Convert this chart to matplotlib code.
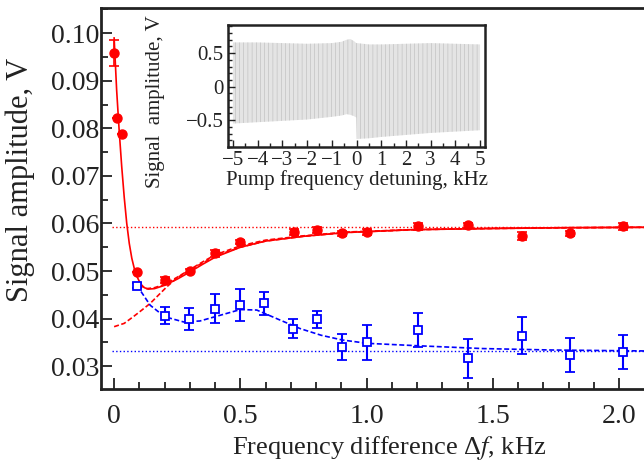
import numpy as np
import matplotlib
matplotlib.use("Agg")
import matplotlib.pyplot as plt
from matplotlib.ticker import MultipleLocator, FormatStrFormatter

plt.rcParams['font.family'] = ['Liberation Serif', 'DejaVu Serif']
plt.rcParams['mathtext.fontset'] = 'stix'
plt.rcParams['hatch.linewidth'] = 0.35

# red points (filled circles)
red_x = [0.0, 0.01, 0.032, 0.09, 0.2, 0.3, 0.4, 0.5, 0.713, 0.803, 0.904, 1.003,
         1.205, 1.403, 1.615, 1.806, 2.017]
red_y = [0.0958, 0.0822, 0.0789, 0.0498, 0.0481, 0.0500, 0.0537, 0.0561, 0.0582,
         0.0586, 0.0579, 0.0582, 0.0594, 0.0596, 0.0574, 0.0579, 0.0594]
red_err = [0.0027, 0.0, 0.0, 0.0, 0.0007, 0.0004, 0.0008, 0.0005, 0.0007,
           0.0006, 0.0005, 0.0006, 0.0007, 0.0006, 0.0008, 0.0006, 0.0007]

# blue points (open squares)
blue_x = [0.09, 0.2, 0.298, 0.401, 0.499, 0.592, 0.71, 0.803, 0.904, 1.003,
          1.205, 1.403, 1.615, 1.806, 2.017]
blue_y = [0.0469, 0.0406, 0.0399, 0.0421, 0.0428, 0.0432, 0.0379, 0.0399, 0.0341,
          0.0350, 0.0376, 0.0317, 0.0364, 0.0323, 0.0330]
blue_err = [0.0005, 0.0018, 0.0024, 0.0030, 0.0034, 0.0024, 0.0020, 0.0018, 0.0027,
            0.0037, 0.0036, 0.0041, 0.0039, 0.0036, 0.0036]

# fitted curves
red_solid_x = [0.0, 0.01, 0.02, 0.03, 0.04, 0.05, 0.06, 0.07, 0.08, 0.09, 0.1, 0.11,
               0.12, 0.135, 0.16, 0.2, 0.25, 0.3, 0.35, 0.4, 0.5, 0.6, 0.75, 0.92,
               1.18, 1.45, 1.75, 2.1]
red_solid_y = [0.0990, 0.0880, 0.0795, 0.0720, 0.0655, 0.0600, 0.0558, 0.0527, 0.0505,
               0.0489, 0.0478, 0.0470, 0.0465, 0.0462, 0.0463, 0.0470, 0.0483, 0.0498,
               0.0514, 0.0529, 0.0550, 0.0563, 0.0573, 0.0581, 0.0587, 0.0589, 0.0591,
               0.0592]
red_dash_x = [0.1, 0.13, 0.16, 0.2, 0.25, 0.3, 0.35, 0.4, 0.5, 0.6, 0.75, 0.92, 1.18,
              1.45, 1.75, 2.1]
red_dash_y = [0.0470, 0.0463, 0.0465, 0.0472, 0.0487, 0.0503, 0.0519, 0.0534, 0.0553,
              0.0565, 0.0574, 0.0582, 0.0587, 0.0589, 0.0591, 0.0592]
red_low_x = [0.0, 0.04, 0.076, 0.11, 0.143, 0.175, 0.209, 0.25, 0.3, 0.35, 0.4, 0.45,
             0.5, 0.6, 0.75, 0.92, 1.2, 1.5, 2.1]
red_low_y = [0.0383, 0.0390, 0.0404, 0.0418, 0.0432, 0.0449, 0.0467, 0.0486, 0.0502,
             0.0517, 0.0530, 0.0541, 0.0550, 0.0563, 0.0573, 0.0581, 0.0587, 0.0590,
             0.0592]
blue_dash_x = [0.09, 0.143, 0.2, 0.275, 0.34, 0.4, 0.5, 0.565, 0.657, 0.737, 0.82,
               0.904, 1.003, 1.2, 1.46, 1.73, 2.1]
blue_dash_y = [0.0470, 0.0428, 0.0404, 0.0393, 0.0395, 0.0404, 0.0419, 0.0418, 0.0397,
               0.0379, 0.0365, 0.0355, 0.0348, 0.0343, 0.0337, 0.0334, 0.0332]
red_level = 0.0593
blue_level = 0.0332

# inset: envelope of the recorded oscillating signal
env_x = [-5.0, -4.0, -3.0, -2.0, -1.0, -0.6, -0.4, -0.25, -0.1, -0.01, 0.01, 0.5,
         1.0, 2.0, 3.0, 4.0, 5.0]
env_top = [0.66, 0.66, 0.65, 0.64, 0.65, 0.67, 0.70, 0.71, 0.68, 0.65, 0.65, 0.63,
           0.63, 0.64, 0.65, 0.64, 0.63]
env_bot = [-0.55, -0.53, -0.51, -0.49, -0.45, -0.43, -0.41, -0.42, -0.44, -0.46,
           -0.78, -0.77, -0.75, -0.72, -0.69, -0.67, -0.65]
ins_ticks = list(range(-5, 6))

fig = plt.figure(figsize=(6.44, 4.61), dpi=100)
ax = fig.add_axes([101 / 644, 72 / 461, 543 / 644, 381 / 461])

red = '#ff0000'
blue = '#0000ff'
ink = '#222222'

ax.axhline(red_level, xmin=0.02, color=red, ls=':', lw=1.0)
ax.axhline(blue_level, xmin=0.02, color=blue, ls=':', lw=1.0)
ax.plot(red_solid_x, red_solid_y, color=red, lw=1.2)
ax.plot(red_dash_x, red_dash_y, color=red, lw=1.2, ls=(0, (3, 1.5)))
ax.plot(red_low_x, red_low_y, color=red, lw=1.2, ls=(0, (3, 1.5)))
ax.plot(blue_dash_x, blue_dash_y, color=blue, lw=1.2, ls=(0, (3, 1.5)))

ax.errorbar(red_x, red_y, yerr=red_err, fmt='o', color=red, ms=6.5,
            elinewidth=1.2, capsize=3.5, capthick=1.2, zorder=4)
ax.errorbar(blue_x, blue_y, yerr=blue_err, fmt='s', color=blue, mfc='white',
            mec=blue, mew=1.3, ms=5.5, elinewidth=1.5, capsize=3.5, capthick=1.5,
            zorder=5)

ax.set_xlim(-0.052, 2.099)
ax.set_ylim(0.0252, 0.1053)
ax.xaxis.set_minor_locator(MultipleLocator(0.1))
ax.yaxis.set_major_locator(MultipleLocator(0.01))
ax.yaxis.set_minor_locator(MultipleLocator(0.005))
ax.yaxis.set_major_formatter(FormatStrFormatter('%.2f'))
ax.set_xticks([0, 0.5, 1.0, 1.5, 2.0])
ax.set_xticklabels(['0', '0.5', '1.0', '1.5', '2.0'])
ax.tick_params(which='both', direction='in', width=1.3, colors=ink,
               labelsize=20, labelcolor=ink)
ax.tick_params(which='major', length=8)
ax.tick_params(which='minor', length=5)
ax.tick_params(axis='y', pad=1.5)
ax.tick_params(axis='x', pad=11)
ax.spines['right'].set_visible(False)
for s in ['left', 'bottom', 'top']:
    ax.spines[s].set_linewidth(2)
    ax.spines[s].set_color(ink)

ax.set_xlabel('Frequency difference Δ$f$, kHz', fontsize=19, color=ink)
ax.set_ylabel('Signal amplitude, V', fontsize=22, color=ink)
ax.xaxis.set_label_coords(0.53, -0.118)
ax.yaxis.set_label_coords(-0.1215, 0.55)

# inset
ins = fig.add_axes([228 / 644, 314 / 461, 257 / 644, 122 / 461])
ins.fill_between(env_x, env_bot, env_top, facecolor='#e4e4e4', edgecolor='#b4b4b4',
                 hatch='||||', lw=0)
ins.set_xlim(-5.2, 5.2)
ins.set_ylim(-0.9, 0.92)
ins.xaxis.set_minor_locator(MultipleLocator(0.5))
ins.set_xticks(ins_ticks)
ins.set_xticklabels([('−%d' % -v) if v < 0 else '%d' % v for v in ins_ticks])
ins.set_yticks([-0.5, 0, 0.5])
ins.set_yticklabels(['−0.5', '0', '0.5'])
ins.yaxis.set_minor_locator(MultipleLocator(0.1))
ins.tick_params(which='both', direction='in', width=1.0, labelsize=15,
                colors=ink, pad=3)
ins.tick_params(which='major', length=5)
ins.tick_params(which='minor', length=3)
for s in ins.spines.values():
    s.set_linewidth(1.8)
    s.set_color(ink)
ins.set_xlabel('Pump frequency detuning, kHz', fontsize=15, color=ink,
               labelpad=0)
ins.set_ylabel('Signal  amplitude, V', fontsize=15, color=ink)
ins.yaxis.set_label_coords(-0.245, 0.37)

fig.savefig('out.png', dpi=100)
